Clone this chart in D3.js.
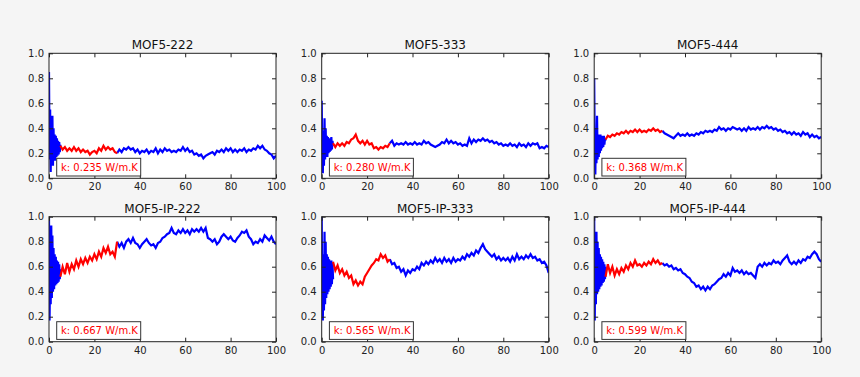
<!DOCTYPE html>
<html>
<head>
<meta charset="utf-8">
<script src="https://cdn.jsdelivr.net/npm/d3@7"></script>
<style>
  body { margin: 0; background: #f5f5f5; }
  svg { display: block; font-family: "DejaVu Sans", sans-serif; }
</style>
</head>
<body>
<svg id="chart" width="860" height="377"></svg>
<script>
// ******************** Data ************************
var titles = ["MOF5-222", "MOF5-333", "MOF5-444", "MOF5-IP-222", "MOF5-IP-333", "MOF5-IP-444"];
var kValues = ["0.235", "0.280", "0.368", "0.667", "0.565", "0.599"];

// x = 0 .. 5 every 0.25 (equilibration, very noisy)
var early222 = [0.85, 0.15, 0.55, 0.05, 0.45, 0.12, 0.50, 0.10, 0.40, 0.15, 0.35, 0.14, 0.34, 0.17, 0.32, 0.18, 0.30, 0.19, 0.29, 0.21, 0.27];
var early333 = [0.62, 0.20, 0.04, 0.38, 0.10, 0.48, 0.15, 0.40, 0.18, 0.34, 0.17, 0.33, 0.20, 0.32, 0.21, 0.31, 0.22, 0.33, 0.23, 0.30, 0.26];
var early444 = [0.80, 0.20, 0.03, 0.40, 0.12, 0.50, 0.15, 0.35, 0.17, 0.34, 0.20, 0.35, 0.22, 0.34, 0.24, 0.33, 0.25, 0.34, 0.27, 0.32, 0.30];
var earlyIP222 = [1.00, 0.17, 0.60, 0.30, 0.93, 0.35, 0.85, 0.40, 0.75, 0.42, 0.70, 0.45, 0.68, 0.46, 0.65, 0.47, 0.64, 0.48, 0.62, 0.50, 0.58];
var earlyIP333 = [1.00, 0.30, 0.17, 0.70, 0.25, 0.88, 0.30, 0.80, 0.35, 0.70, 0.38, 0.68, 0.40, 0.66, 0.42, 0.64, 0.44, 0.65, 0.46, 0.63, 0.50];
var earlyIP444 = [1.00, 0.17, 0.85, 0.30, 0.88, 0.38, 0.80, 0.40, 0.75, 0.42, 0.70, 0.44, 0.68, 0.45, 0.66, 0.47, 0.64, 0.48, 0.62, 0.50, 0.60];

// x = 5 .. 100 every 1
var main222 = [0.26, 0.23, 0.25, 0.22, 0.24, 0.22, 0.25, 0.22, 0.24, 0.21, 0.23, 0.21, 0.22, 0.19, 0.21, 0.22, 0.20, 0.24, 0.22, 0.26, 0.23, 0.25, 0.23, 0.24, 0.21, 0.20,
  0.23, 0.21, 0.24, 0.23, 0.25, 0.23, 0.24, 0.21, 0.23, 0.20, 0.22, 0.21, 0.23, 0.20, 0.22, 0.21, 0.24, 0.20, 0.23, 0.21, 0.24, 0.22, 0.23, 0.21, 0.22, 0.21, 0.23, 0.22, 0.25, 0.22,
  0.24, 0.21, 0.22, 0.19, 0.20, 0.18, 0.19, 0.16, 0.18, 0.19, 0.20, 0.21, 0.19, 0.22, 0.21, 0.23, 0.21, 0.24, 0.22, 0.24, 0.21, 0.23, 0.21, 0.23, 0.22, 0.24, 0.21, 0.23, 0.22, 0.24,
  0.23, 0.26, 0.24, 0.26, 0.23, 0.22, 0.20, 0.19, 0.16, 0.18];
var main333 = [0.28, 0.25, 0.28, 0.26, 0.28, 0.26, 0.29, 0.28, 0.31, 0.32, 0.35, 0.30, 0.28, 0.30, 0.27, 0.30, 0.27, 0.28, 0.24, 0.25, 0.23, 0.25, 0.24, 0.26, 0.25, 0.28,
  0.30, 0.26, 0.28, 0.27, 0.28, 0.27, 0.29, 0.27, 0.28, 0.27, 0.29, 0.27, 0.28, 0.27, 0.30, 0.28, 0.29, 0.27, 0.26, 0.25, 0.26, 0.27, 0.29, 0.28, 0.31, 0.28, 0.30, 0.28, 0.29, 0.27,
  0.28, 0.26, 0.27, 0.26, 0.32, 0.28, 0.31, 0.29, 0.31, 0.30, 0.32, 0.30, 0.31, 0.29, 0.30, 0.28, 0.29, 0.27, 0.28, 0.26, 0.27, 0.26, 0.28, 0.26, 0.27, 0.25, 0.28, 0.26, 0.27, 0.25,
  0.28, 0.26, 0.28, 0.27, 0.28, 0.24, 0.25, 0.24, 0.26, 0.25];
var main444 = [0.31, 0.34, 0.33, 0.35, 0.34, 0.36, 0.35, 0.37, 0.36, 0.38, 0.36, 0.38, 0.37, 0.39, 0.37, 0.39, 0.37, 0.38, 0.37, 0.39, 0.38, 0.40, 0.38, 0.39, 0.37, 0.38,
  0.36, 0.35, 0.34, 0.33, 0.32, 0.34, 0.36, 0.34, 0.35, 0.34, 0.36, 0.34, 0.35, 0.34, 0.36, 0.35, 0.37, 0.36, 0.38, 0.37, 0.38, 0.37, 0.39, 0.38, 0.41, 0.39, 0.40, 0.38, 0.40, 0.39,
  0.41, 0.40, 0.39, 0.40, 0.38, 0.40, 0.38, 0.41, 0.39, 0.40, 0.39, 0.41, 0.39, 0.41, 0.40, 0.42, 0.40, 0.41, 0.39, 0.40, 0.38, 0.39, 0.37, 0.38, 0.36, 0.37, 0.35, 0.37, 0.35, 0.36,
  0.34, 0.37, 0.35, 0.36, 0.33, 0.35, 0.33, 0.34, 0.32, 0.33];
var mainIP222 = [0.52, 0.60, 0.54, 0.63, 0.56, 0.62, 0.58, 0.65, 0.60, 0.66, 0.62, 0.67, 0.63, 0.68, 0.65, 0.70, 0.66, 0.72, 0.68, 0.75, 0.71, 0.76, 0.70, 0.72, 0.68, 0.80,
  0.76, 0.79, 0.75, 0.80, 0.82, 0.79, 0.83, 0.79, 0.78, 0.75, 0.78, 0.80, 0.82, 0.79, 0.77, 0.78, 0.75, 0.79, 0.80, 0.83, 0.84, 0.86, 0.87, 0.91, 0.87, 0.86, 0.89, 0.87, 0.90, 0.87,
  0.89, 0.86, 0.90, 0.88, 0.90, 0.88, 0.91, 0.88, 0.91, 0.83, 0.82, 0.80, 0.82, 0.78, 0.80, 0.84, 0.86, 0.84, 0.82, 0.84, 0.81, 0.80, 0.83, 0.85, 0.88, 0.87, 0.89, 0.84, 0.82, 0.78,
  0.80, 0.79, 0.82, 0.80, 0.85, 0.83, 0.81, 0.84, 0.80, 0.78];
var mainIP333 = [0.64, 0.57, 0.61, 0.55, 0.58, 0.53, 0.56, 0.51, 0.53, 0.46, 0.49, 0.45, 0.48, 0.46, 0.52, 0.55, 0.58, 0.61, 0.63, 0.66, 0.65, 0.70, 0.67, 0.69, 0.64, 0.66,
  0.62, 0.63, 0.59, 0.60, 0.56, 0.58, 0.53, 0.57, 0.55, 0.58, 0.57, 0.60, 0.58, 0.63, 0.61, 0.64, 0.62, 0.65, 0.63, 0.67, 0.64, 0.66, 0.63, 0.67, 0.64, 0.66, 0.63, 0.67, 0.64, 0.66,
  0.65, 0.68, 0.66, 0.70, 0.68, 0.71, 0.69, 0.73, 0.71, 0.75, 0.78, 0.74, 0.72, 0.70, 0.68, 0.70, 0.66, 0.68, 0.65, 0.67, 0.65, 0.67, 0.64, 0.68, 0.65, 0.70, 0.66, 0.68, 0.66, 0.69,
  0.67, 0.70, 0.67, 0.68, 0.65, 0.66, 0.63, 0.64, 0.61, 0.55];
var mainIP444 = [0.52, 0.62, 0.55, 0.60, 0.53, 0.58, 0.54, 0.59, 0.56, 0.61, 0.58, 0.63, 0.60, 0.65, 0.61, 0.62, 0.60, 0.63, 0.61, 0.64, 0.62, 0.66, 0.63, 0.65, 0.62, 0.63,
  0.61, 0.62, 0.60, 0.61, 0.58, 0.59, 0.57, 0.58, 0.55, 0.54, 0.52, 0.51, 0.48, 0.47, 0.44, 0.45, 0.42, 0.44, 0.41, 0.44, 0.42, 0.45, 0.46, 0.48, 0.50, 0.51, 0.54, 0.52, 0.55, 0.53,
  0.59, 0.56, 0.57, 0.55, 0.57, 0.54, 0.56, 0.54, 0.55, 0.53, 0.51, 0.60, 0.62, 0.60, 0.63, 0.61, 0.63, 0.62, 0.65, 0.63, 0.64, 0.62, 0.65, 0.67, 0.69, 0.64, 0.62, 0.64, 0.62, 0.65,
  0.63, 0.66, 0.65, 0.68, 0.67, 0.70, 0.72, 0.70, 0.66, 0.64];

var earlySeries = [early222, early333, early444, earlyIP222, earlyIP333, earlyIP444];
var mainSeries = [main222, main333, main444, mainIP222, mainIP333, mainIP444];

var xTicks = [0, 20, 40, 60, 80, 100];
var yTicks = [0.0, 0.2, 0.4, 0.6, 0.8, 1.0];
var fitStart = 5, fitEnd = 30;   // red part = averaging window

// ******************** Layout ************************
var W = 227, H = 125;
var colLeft = [49, 321.7, 594.2];
var rowTop = [53.3, 216.7];

var x = d3.scaleLinear().domain([0, 100]).range([0, W]);
var y = d3.scaleLinear().domain([0, 1]).range([H, 0]);

var svg = d3.select("#chart");

var line = d3.line()
    .x(function (d) { return x(d[0]); })
    .y(function (d) { return y(d[1]); });

svg.append("defs").append("clipPath").attr("id", "plotclip")
    .append("rect").attr("width", W).attr("height", H);

titles.forEach(function (title, i) {
    var g = svg.append("g")
        .attr("transform", "translate(" + colLeft[i % 3] + "," + rowTop[Math.floor(i / 3)] + ")");

    g.append("rect").attr("width", W).attr("height", H).attr("fill", "#fff");

    // build points
    var early = earlySeries[i].map(function (v, j) { return [j * 0.25, v]; });
    var main = mainSeries[i].map(function (v, j) { return [fitStart + j, v]; });
    var red = main.filter(function (d) { return d[0] <= fitEnd; });
    var blueLate = main.filter(function (d) { return d[0] >= fitEnd; });

    var lines = g.append("g").attr("clip-path", "url(#plotclip)");
    lines.append("path").attr("d", line(early))
        .attr("fill", "none").attr("stroke", "#0000ff").attr("stroke-width", 2.2);
    lines.append("path").attr("d", line(blueLate))
        .attr("fill", "none").attr("stroke", "#0000ff").attr("stroke-width", 2.2);
    lines.append("path").attr("d", line(red))
        .attr("fill", "none").attr("stroke", "#ff0000").attr("stroke-width", 2.2);

    // axes, ticks inward on all four sides
    var ax = g.append("g").attr("transform", "translate(0," + H + ")")
        .call(d3.axisBottom(x).tickValues(xTicks).tickSize(-4).tickPadding(5).tickFormat(d3.format("d")));
    var ay = g.append("g")
        .call(d3.axisLeft(y).tickValues(yTicks).tickSize(-4).tickPadding(5).tickFormat(d3.format(".1f")));
    var at = g.append("g")
        .call(d3.axisTop(x).tickValues(xTicks).tickSize(-4).tickFormat(""));
    var ar = g.append("g").attr("transform", "translate(" + W + ",0)")
        .call(d3.axisRight(y).tickValues(yTicks).tickSize(-4).tickFormat(""));
    [ax, ay, at, ar].forEach(function (a) {
        a.select(".domain").remove();
        a.selectAll("line").attr("stroke", "#222");
        a.selectAll("text").attr("fill", "#222").style("font-size", "10px")
            .style("font-family", "'DejaVu Sans', sans-serif");
    });

    g.append("rect").attr("width", W).attr("height", H)
        .attr("fill", "none").attr("stroke", "#222").attr("stroke-width", 1);

    g.append("text")
        .attr("x", W / 2).attr("y", -4)
        .attr("text-anchor", "middle")
        .style("font-size", "12px").attr("fill", "#111")
        .text(title);

    // annotation box
    var box = g.append("g").attr("transform", "translate(7.7," + (H - 20) + ")");
    box.append("rect").attr("width", 84).attr("height", 17.7)
        .attr("fill", "#fff").attr("stroke", "#333").attr("stroke-width", 1);
    box.append("text").attr("x", 4.3).attr("y", 12.6)
        .style("font-size", "10px").attr("fill", "#ff0000")
        .text("k: " + kValues[i] + " W/m.K");
});
</script>
</body>
</html>
